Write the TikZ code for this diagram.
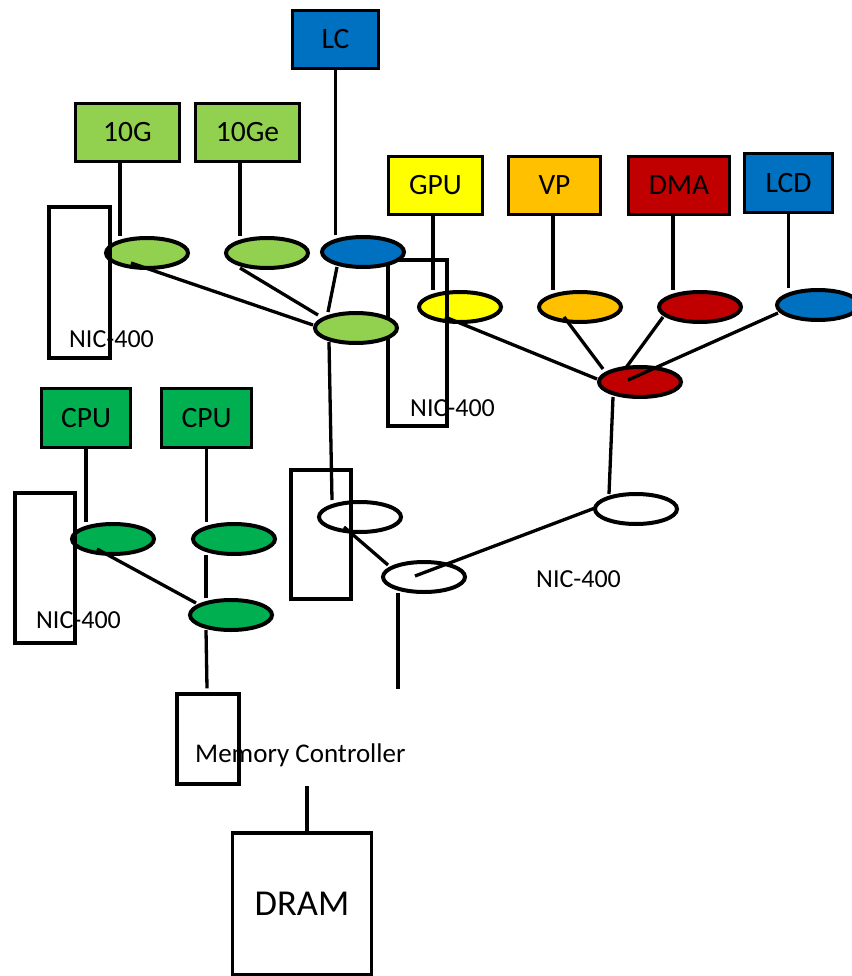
\documentclass[tikz,border=0pt]{standalone}
\usepackage{fontspec}
\setmainfont{Carlito}
\usetikzlibrary{shapes.geometric}

\definecolor{lgreen}{HTML}{92D050}
\definecolor{dgreen}{HTML}{00B050}
\definecolor{mblue}{HTML}{0070C0}
\definecolor{myellow}{HTML}{FFFF00}
\definecolor{morange}{HTML}{FFC000}
\definecolor{mred}{HTML}{C00000}

\tikzset{
  blk/.style={draw,line width=3.4pt,inner sep=0pt,font=\fontsize{29.5}{32}\selectfont},
  hub/.style={draw,ellipse,line width=4pt,inner sep=0pt,minimum width=82pt,minimum height=30pt},
  nic/.style={draw,line width=3.2pt,inner sep=0pt},
  lbl/.style={inner sep=0pt,font=\fontsize{26}{30}\selectfont},
  wire/.style={line width=3.3pt}
}

\begin{document}
\begin{tikzpicture}[x=1pt,y=-1pt]
  \useasboundingbox (0,0) rectangle (851,976);
  % component blocks
  \node[blk,fill=mblue,minimum width=86pt,minimum height=58pt] (blc) at (335.5,39.5) {LC};
  \node[blk,fill=lgreen,minimum width=104pt,minimum height=58pt] (b10g) at (127.5,132.5) {10G};
  \node[blk,fill=lgreen,minimum width=104pt,minimum height=58pt] (b10ge) at (247.5,132.5) {10Ge};
  \node[blk,fill=myellow,minimum width=94pt,minimum height=58pt] (bgpu) at (435.5,185.5) {GPU};
  \node[blk,fill=morange,minimum width=92pt,minimum height=58pt] (bvp) at (554.5,185.5) {VP};
  \node[blk,fill=mred,minimum width=101pt,minimum height=58pt] (bdma) at (679,185.5) {DMA};
  \node[blk,fill=mblue,minimum width=88pt,minimum height=59pt] (blcd) at (788.5,183) {LCD};
  \node[blk,fill=dgreen,minimum width=89pt,minimum height=59pt] (bcpu1) at (86,418) {CPU};
  \node[blk,fill=dgreen,minimum width=90pt,minimum height=59pt] (bcpu2) at (206.5,418) {CPU};
  \node[nic,minimum width=139pt,minimum height=142pt,font=\fontsize{36.5}{40}\selectfont] (dram) at (302,904) {DRAM};

  % switch ellipses
  \node[hub,fill=myellow] (egpu) at (460,307) {};
  \node[nic,minimum width=59pt,minimum height=166pt] (nic2) at (417.5,343) {};
  \node[hub,fill=lgreen] (e10g) at (147,253) {};
  \node[hub,fill=lgreen] (e10ge) at (267,253) {};
  \node[hub,fill=mblue] (elc) at (363,252) {};
  \node[hub,fill=lgreen] (egrn) at (356,328) {};
  \node[hub,fill=morange] (evp) at (580,307) {};
  \node[hub,fill=mred] (edma) at (700,307) {};
  \node[hub,fill=mblue] (elcd) at (818,305) {};
  \node[hub,fill=mred] (ehub) at (640,382) {};
  \node[hub,fill=dgreen] (ecpu1) at (113,539) {};
  \node[hub,fill=dgreen] (ecpu2) at (234,539) {};
  \node[hub,fill=dgreen] (ecpu) at (231,615) {};
  \node[hub,fill=white] (ew1) at (360,517) {};
  \node[hub,fill=white] (ew2) at (424,577) {};
  \node[hub,fill=white] (ew3) at (636,509) {};

  % NIC-400 outlines
  \node[nic,minimum width=61pt,minimum height=151pt] (nic1) at (79.5,282.5) {};
  \node[nic,minimum width=60pt,minimum height=150pt] (nic3) at (45,568) {};
  \node[nic,minimum width=60pt,minimum height=129pt] (nic4) at (321,534.5) {};
  \node[lbl,anchor=base west,font=\fontsize{27}{30}\selectfont] (mc) at (195,762) {Memory Controller};
  \node[nic,minimum width=62pt,minimum height=90pt] (mcr) at (208,739) {};
  \node[lbl,anchor=base west] (l1) at (69,347) {NIC-400};
  \node[lbl,anchor=base west] (l2) at (410,416) {NIC-400};
  \node[lbl,anchor=base west] (l3) at (36,628) {NIC-400};
  \node[lbl,anchor=base west] (l4) at (536,587) {NIC-400};
  \coordinate (mcin) at (398,689);

  % block to switch
  \draw[wire] ([xshift=-7.5pt]b10g.south) -- ([xshift=-7.5pt]b10g.south |- e10g.north);
  \draw[wire] ([xshift=-7.5pt]b10ge.south) -- ([xshift=-7.5pt]b10ge.south |- e10ge.north);
  \draw[wire] (blc.south) -- (blc.south |- elc.north);
  \draw[wire] ([xshift=-2.5pt]bgpu.south) -- ([xshift=-2.5pt]bgpu.south |- egpu.north);
  \draw[wire] ([xshift=-1.5pt]bvp.south) -- ([xshift=-1.5pt]bvp.south |- evp.north);
  \draw[wire] ([xshift=-6pt]bdma.south) -- ([xshift=-6pt]bdma.south |- edma.north);
  \draw[wire] (blcd.south) -- (blcd.south |- elcd.north);
  \draw[wire] (bcpu1.south) -- (bcpu1.south |- ecpu1.north);
  \draw[wire] (bcpu2.south) -- (bcpu2.south |- ecpu2.north);

  % switch to switch
  \draw[wire] ([shift={(-16,10)}]e10g.center) -- ([shift={(-43,-3)}]egrn.center);
  \draw[wire] ([shift={(-27,15)}]e10ge.center) -- ([shift={(-38,-13)}]egrn.center);
  \draw[wire] ([shift={(-26,15)}]elc.center) -- ([shift={(-28,-16)}]egrn.center);
  \draw[wire] ([shift={(-27,14)}]egrn.center) -- ([shift={(-28,-17)}]ew1.center);
  \draw[wire] ([shift={(-15,10)}]egpu.center) -- ([shift={(-43,-3)}]ehub.center);
  \draw[wire] ([shift={(-16,10)}]evp.center) -- ([shift={(-37,-13)}]ehub.center);
  \draw[wire] ([shift={(-37,10)}]edma.center) -- ([shift={(-15,-13)}]ehub.center);
  \draw[wire] ([shift={(-40,8)}]elcd.center) -- ([shift={(-12,-2)}]ehub.center);
  \draw[wire] ([shift={(-27,15)}]ehub.center) -- ([shift={(-27,-15)}]ew3.center);
  \draw[wire] ([shift={(-16,10)}]ew1.center) -- ([shift={(-36,-12)}]ew2.center);
  \draw[wire] ([shift={(-9,-1)}]ew2.center) -- ([shift={(-41,-1)}]ew3.center);
  \draw[wire] ([shift={(-26,16)}]ew2.center) -- (mcin);
  \draw[wire] ([shift={(-16,10)}]ecpu1.center) -- ([shift={(-35,-12)}]ecpu.center);
  \draw[wire] ([shift={(-28,16)}]ecpu2.center) -- ([shift={(-25,-17)}]ecpu.center);
  \draw[wire] ([shift={(-25,15)}]ecpu.center) -- ([shift={(-1,-4)}]mcr.north);
  \draw[wire] ([xshift=5pt]dram.north) -- ([xshift=5pt]dram.north |- mcr.south);
\end{tikzpicture}
\end{document}
